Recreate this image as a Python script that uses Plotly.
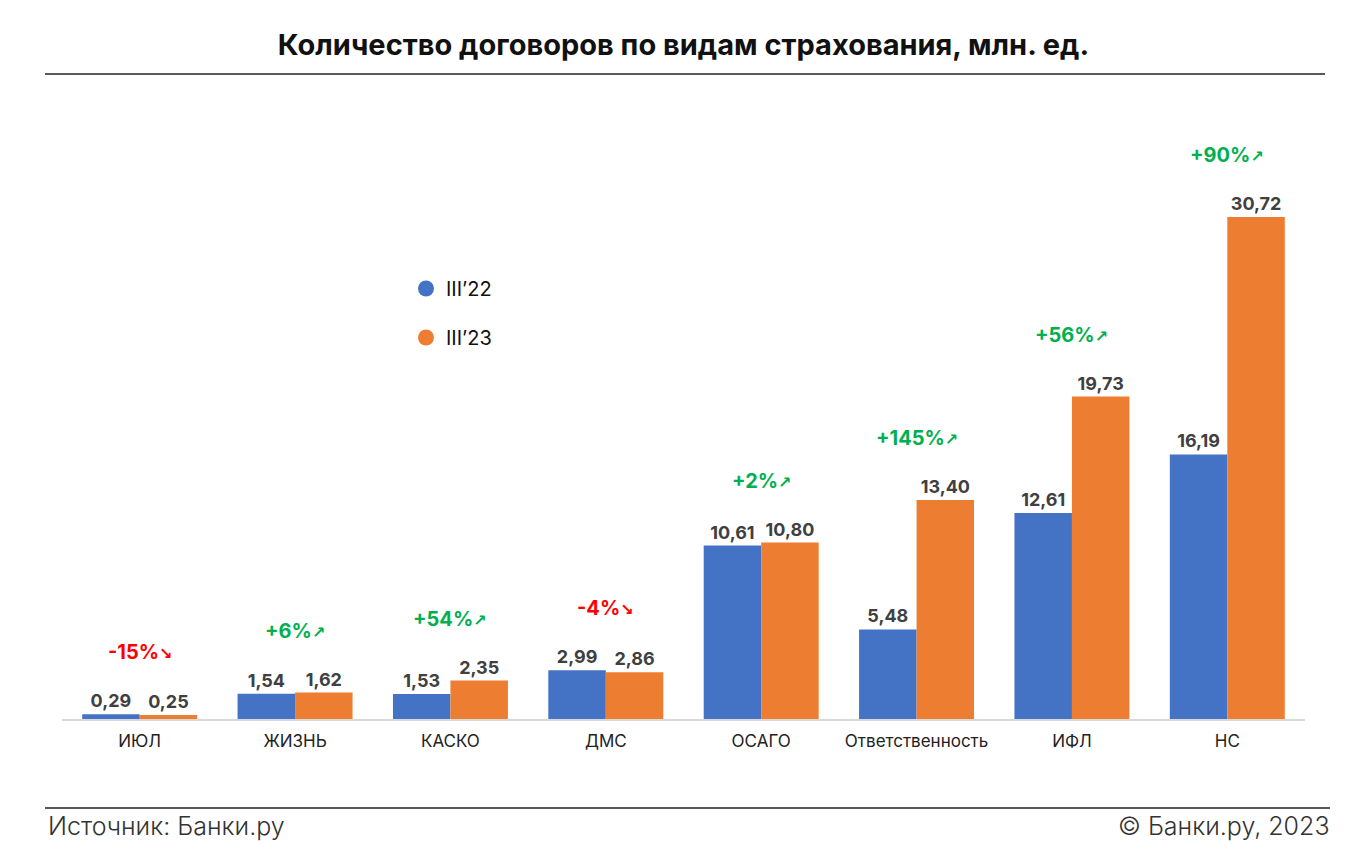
import plotly.graph_objects as go

categories = ["ИЮЛ", "ЖИЗНЬ", "КАСКО", "ДМС", "ОСАГО", "Ответственность", "ИФЛ", "НС"]
series_names = ["III’22", "III’23"]
values_22 = [0.29, 1.54, 1.53, 2.99, 10.61, 5.48, 12.61, 16.19]
values_23 = [0.25, 1.62, 2.35, 2.86, 10.80, 13.40, 19.73, 30.72]
changes = ["-15%", "+6%", "+54%", "-4%", "+2%", "+145%", "+56%", "+90%"]

BLUE = "#4472C4"
ORANGE = "#ED7D31"
GREEN = "#00B050"
RED = "#FF0000"
FONT = "Inter"

OFF = 8  # page offset of the figure
PL, PR, PT, PB = 62, 1305, 80, 719  # plot area in page pixels
PW, PH = PR - PL, PB - PT


def px(xp):
    return (xp - PL) / PW


def py(yp):
    return (PB - yp) / PH


def fmt(v):
    return f"{v:.2f}".replace(".", ",")


fig = go.Figure()
for name, vals, col in [(series_names[0], values_22, BLUE), (series_names[1], values_23, ORANGE)]:
    fig.add_trace(go.Bar(
        x=categories, y=vals, name=name, marker_color=col, marker_line_width=0,
        text=[fmt(v) for v in vals], textposition="outside",
        textfont=dict(family=FONT, size=18, color="#404040", weight="bold"),
        cliponaxis=False, showlegend=False, hoverinfo="skip",
    ))
    fig.add_trace(go.Scatter(
        x=[None], y=[None], mode="markers", name=name, legendgroup=name,
        marker=dict(color=col, size=21, symbol="circle"),
    ))

for cat, a, b, ch in zip(categories, values_22, values_23, changes):
    up = ch.startswith("+")
    col = GREEN if up else RED
    arrow = "↗" if up else "↘"
    fig.add_annotation(
        x=cat, y=max(a, b), yref="y", xref="x", yshift=62, showarrow=False,
        text=f"<b>{ch}</b><span style='font-family:DejaVu Sans;font-size:16px'><b>{arrow}</b></span>",
        font=dict(family=FONT, size=20, color=col, weight=800),
    )

fig.update_layout(
    width=1366, height=850,
    paper_bgcolor="white", plot_bgcolor="white",
    margin=dict(l=PL - OFF, r=1366 - PR + OFF, t=PT - OFF, b=850 - PB + OFF),
    barmode="group", bargap=0.26, bargroupgap=0,
    title=dict(text="<b>Количество договоров по видам страхования, млн. ед.</b>",
               x=0.5, xanchor="center", xref="paper", y=1 - (45 - OFF) / 850, yanchor="middle",
               font=dict(family=FONT, size=29, color="#111111", weight=800)),
    legend=dict(x=px(406), y=py(269), xanchor="left", yanchor="top",
                font=dict(family=FONT, size=20, color="#111111"),
                tracegroupgap=20, itemsizing="trace", bgcolor="rgba(0,0,0,0)"),
    xaxis=dict(showline=True, linecolor="#D9D9D9", linewidth=1.5, ticks="",
               ticklabelstandoff=6,
               tickfont=dict(family=FONT, size=17, color="#222222"), showgrid=False),
    yaxis=dict(range=[0, 39.1], visible=False, showgrid=False, zeroline=False),
    showlegend=True,
)

# Header/footer rules
fig.add_shape(type="line", xref="paper", yref="paper",
              x0=px(45), x1=px(1325), y0=py(74), y1=py(74),
              line=dict(color="#222222", width=1.5))
fig.add_shape(type="line", xref="paper", yref="paper",
              x0=px(45), x1=px(1330), y0=py(808), y1=py(808),
              line=dict(color="#222222", width=1.5))
fig.add_annotation(xref="paper", yref="paper", x=px(46), y=py(826),
                   xanchor="left", yanchor="middle", showarrow=False,
                   text="Источник: Банки.ру",
                   font=dict(family=FONT, size=25, color="#333333", weight=300))
fig.add_annotation(xref="paper", yref="paper", x=px(1332), y=py(826),
                   xanchor="right", yanchor="middle", showarrow=False,
                   text="© Банки.ру, 2023",
                   font=dict(family=FONT, size=25, color="#333333", weight=300))

fig.write_html("out.html")
